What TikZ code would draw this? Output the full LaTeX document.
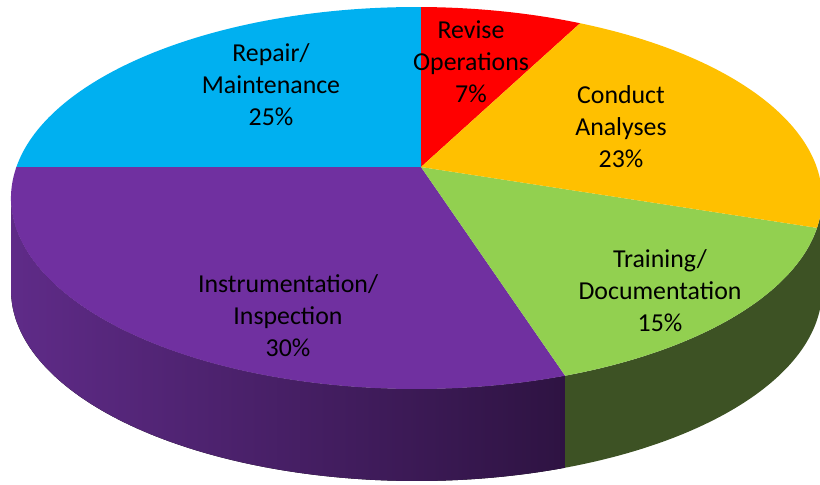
\documentclass[tikz,border=0pt]{standalone}
\usepackage{fontspec}
\setmainfont{Carlito}
\usepackage{tikz}
\usetikzlibrary{calc}
\definecolor{pieblue}{HTML}{00B0F0}
\definecolor{piered}{HTML}{FF0000}
\definecolor{pieyellow}{HTML}{FFC000}
\definecolor{piegreen}{HTML}{92D050}
\definecolor{piepurple}{HTML}{7030A0}
\definecolor{sidepurpleA}{HTML}{5F2B88}
\definecolor{sidepurpleB}{HTML}{2E1342}
\definecolor{sidegreen}{HTML}{3D5224}
\begin{document}
\begin{tikzpicture}[line join=round,x=0.02cm,y=0.02cm,
  lbl/.style={align=center,text=black,font=\fontsize{14.7}{18.2}\selectfont}]
\useasboundingbox (0,0) rectangle (820,484);
\clip (0,0) rectangle (820,484);
% top ellipse centre, bottom ellipse centre, apex
\coordinate (top) at (416.5,286);
\coordinate (bot) at (416.5,194);
\coordinate (apex) at (421,317);
% side walls
\fill[left color=sidepurpleA,right color=sidepurpleB] ($(top)+(180:405.5 and 191)$) arc[start angle=180,end angle=291.5,x radius=405.5,y radius=191] -- ($(bot)+(291.5:405.5 and 191)$) arc[start angle=291.5,end angle=180,x radius=405.5,y radius=191] -- cycle;
\fill[sidegreen] ($(top)+(291.5:405.5 and 191)$) arc[start angle=291.5,end angle=360,x radius=405.5,y radius=191] -- ($(bot)+(0:405.5 and 191)$) arc[start angle=360,end angle=291.5,x radius=405.5,y radius=191] -- cycle;
% top sectors
\fill[piered] (apex) -- ($(top)+(66.2:405.5 and 191)$) arc[start angle=66.2,end angle=89.4,x radius=405.5,y radius=191] -- cycle;
\fill[pieblue] (apex) -- ($(top)+(89.4:405.5 and 191)$) arc[start angle=89.4,end angle=170.7,x radius=405.5,y radius=191] -- cycle;
\fill[piepurple] (apex) -- ($(top)+(170.7:405.5 and 191)$) arc[start angle=170.7,end angle=291.5,x radius=405.5,y radius=191] -- cycle;
\fill[piegreen] (apex) -- ($(top)+(291.5:405.5 and 191)$) arc[start angle=291.5,end angle=351,x radius=405.5,y radius=191] -- cycle;
\fill[pieyellow] (apex) -- ($(top)+(-9:405.5 and 191)$) arc[start angle=-9,end angle=66.2,x radius=405.5,y radius=191] -- cycle;
% labels
\node[lbl] (repair) at (271,399) {Repair/\\Maintenance\\25\%};
\node[lbl] (revise) at (471,422) {Revise\\Operations\\7\%};
\node[lbl] (conduct) at (621,357) {Conduct\\Analyses\\23\%};
\node[lbl] (training) at (660,193) {Training/\\Documentation\\15\%};
\node[lbl] (instr) at (288,168) {Instrumentation/\\Inspection\\30\%};
\end{tikzpicture}
\end{document}
